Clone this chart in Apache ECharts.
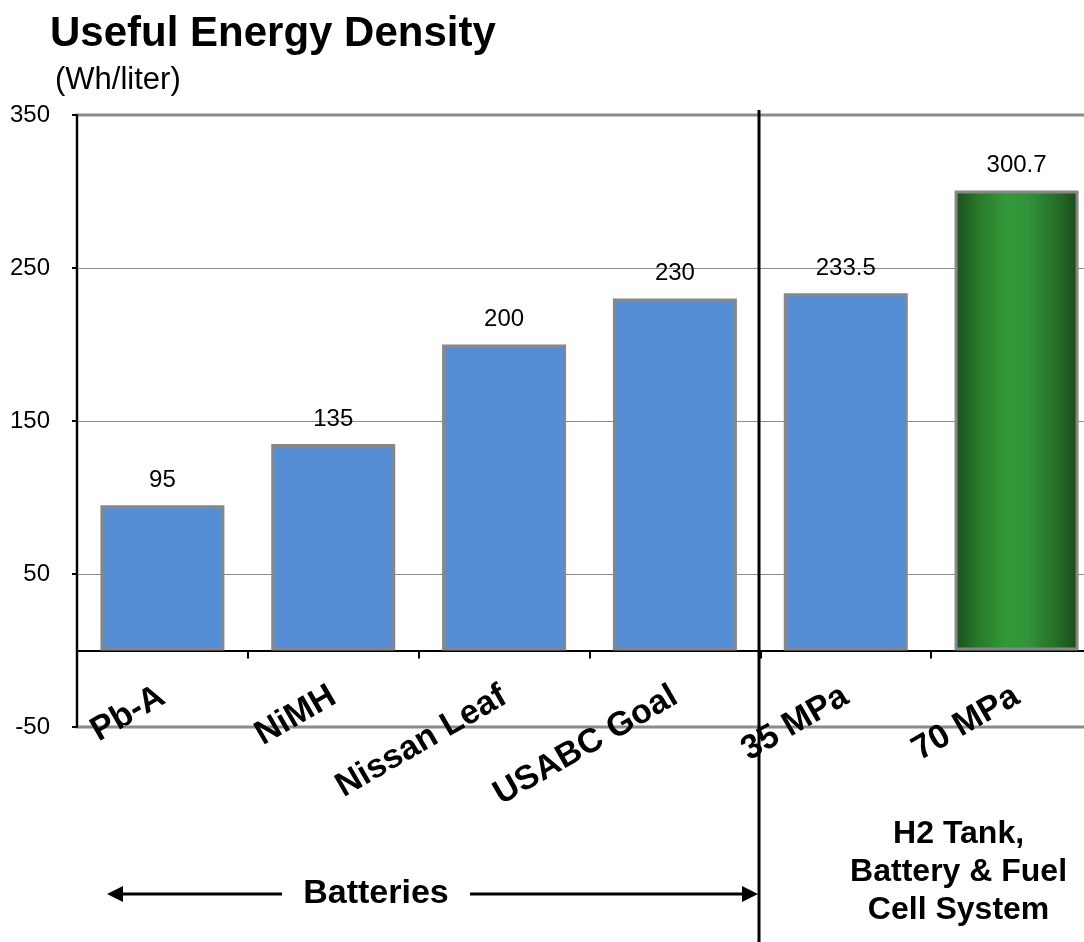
<!DOCTYPE html>
<html>
<head>
<meta charset="utf-8">
<script src="https://cdn.jsdelivr.net/npm/echarts@6/dist/echarts.min.js"></script>
<style>
  html, body { margin: 0; padding: 0; background: #ffffff; overflow: hidden; }
  /* the plot area runs slightly past the right edge of the window */
  #chart { width: 1110px; height: 942px; }
</style>
</head>
<body>
<div id="chart"></div>
<script>
// Energy storage options and their useful energy density (Wh/liter)
const categories = ['Pb-A', 'NiMH', 'Nissan Leaf', 'USABC Goal', '35 MPa', '70 MPa'];
const densities = [95, 135, 200, 230, 233.5, 300.7];
const highlighted = ['70 MPa'];

// Value axis ticks: -50, 50, 150, 250, 350
const yMin = -50;
const yMax = 350;
const yStep = 100;

// Group captions below the categories
const batteryGroupLabel = 'Batteries';
const systemGroupLines = ['H2 Tank,', 'Battery & Fuel', 'Cell System'];
const chartTitle = 'Useful Energy Density';
const unitLabel = '(Wh/liter)';

const FONT = "'Liberation Sans', Arial, Helvetica, sans-serif";
const BLUE = '#558ED5';
const BAR_EDGE = '#878787';

const greenFill = new echarts.graphic.LinearGradient(0, 0, 1, 0, [
  { offset: 0, color: '#1b4d1d' },
  { offset: 0.18, color: '#27772a' },
  { offset: 0.42, color: '#339a37' },
  { offset: 0.6, color: '#30923a' },
  { offset: 0.85, color: '#236a25' },
  { offset: 1, color: '#1a481b' }
]);

const chart = echarts.init(document.getElementById('chart'), null, { renderer: 'canvas' });

const option = {
  animation: false,
  backgroundColor: '#ffffff',
  textStyle: { fontFamily: FONT },
  title: [
    {
      text: chartTitle,
      left: 45,
      top: 8,
      textStyle: { fontFamily: FONT, fontSize: 42, fontWeight: 'bold', color: '#000' }
    },
    {
      text: unitLabel,
      left: 50,
      top: 60,
      textStyle: { fontFamily: FONT, fontSize: 31, fontWeight: 'normal', color: '#000' }
    }
  ],
  grid: {
    left: 77,
    top: 115,
    right: 8,
    height: 612,
    show: true,
    backgroundColor: 'transparent',
    borderColor: '#8a8a8a',
    borderWidth: 3
  },
  xAxis: {
    type: 'category',
    data: categories,
    axisLine: { show: true, onZero: true, lineStyle: { color: '#000', width: 2 } },
    axisTick: { show: true, length: 8, lineStyle: { color: '#000', width: 2 } },
    axisLabel: {
      interval: 0,
      rotate: 30,
      margin: -33,
      fontFamily: FONT,
      fontSize: 34,
      fontWeight: 'bold',
      color: '#000'
    },
    splitLine: { show: false }
  },
  yAxis: {
    type: 'value',
    min: yMin,
    max: yMax,
    interval: yStep,
    axisLine: { show: true, lineStyle: { color: '#000', width: 2 } },
    axisTick: { show: true, length: 5, lineStyle: { color: '#000', width: 2 } },
    axisLabel: { margin: 27, fontFamily: FONT, fontSize: 24, color: '#000' },
    splitLine: { show: true, lineStyle: { color: '#8c8c8c', width: 1 } }
  },
  series: [
    {
      type: 'bar',
      barWidth: 124,
      data: densities.map((v, i) => ({
        value: v,
        itemStyle: { color: highlighted.includes(categories[i]) ? greenFill : BLUE }
      })),
      itemStyle: { borderColor: BAR_EDGE, borderWidth: 3 },
      label: {
        show: true,
        position: 'top',
        distance: 13,
        fontFamily: FONT,
        fontSize: 24,
        color: '#000'
      }
    }
  ]
};

chart.setOption(option);

// Divider between the battery group and the fuel cell system group
const xA = chart.convertToPixel({ xAxisIndex: 0 }, 3);
const xB = chart.convertToPixel({ xAxisIndex: 0 }, 4);
const sepX = Math.round((xA + xB) / 2) - 1;
const sysCenter = chart.convertToPixel({ xAxisIndex: 0 }, 5) - 58;
const arrowY = 894;
const arrowLeft = 107;
const textGapL = 282;
const textGapR = 470;

chart.setOption({
  graphic: [
    {
      type: 'line',
      shape: { x1: sepX, y1: 110, x2: sepX, y2: 942 },
      style: { stroke: '#000', lineWidth: 3 },
      z: 100
    },
    {
      type: 'line',
      shape: { x1: arrowLeft + 12, y1: arrowY, x2: textGapL, y2: arrowY },
      style: { stroke: '#000', lineWidth: 3 },
      z: 100
    },
    {
      type: 'line',
      shape: { x1: textGapR, y1: arrowY, x2: sepX - 12, y2: arrowY },
      style: { stroke: '#000', lineWidth: 3 },
      z: 100
    },
    {
      type: 'polygon',
      shape: { points: [[arrowLeft, arrowY], [arrowLeft + 16, arrowY - 8], [arrowLeft + 16, arrowY + 8]] },
      style: { fill: '#000' },
      z: 100
    },
    {
      type: 'polygon',
      shape: { points: [[sepX - 1, arrowY], [sepX - 17, arrowY - 8], [sepX - 17, arrowY + 8]] },
      style: { fill: '#000' },
      z: 100
    },
    {
      type: 'text',
      x: (textGapL + textGapR) / 2,
      y: arrowY,
      style: {
        text: batteryGroupLabel,
        fontFamily: FONT,
        fontSize: 34,
        fontWeight: 'bold',
        fill: '#000',
        align: 'center',
        verticalAlign: 'middle'
      },
      z: 100
    },
    {
      type: 'text',
      x: sysCenter,
      y: 872,
      style: {
        text: systemGroupLines.join('\n'),
        fontFamily: FONT,
        fontSize: 32,
        lineHeight: 38,
        fontWeight: 'bold',
        fill: '#000',
        align: 'center',
        verticalAlign: 'middle'
      },
      z: 100
    }
  ]
});
</script>
</body>
</html>
